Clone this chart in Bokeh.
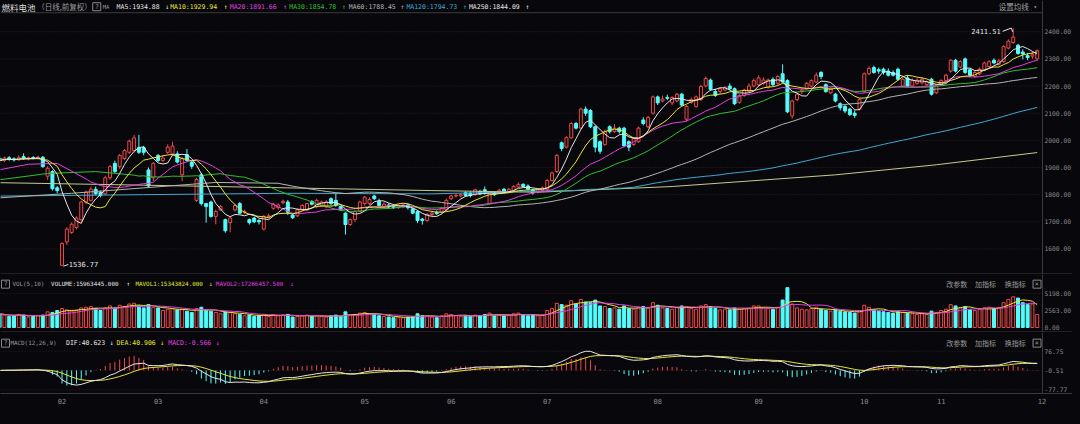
import numpy as np
import pandas as pd
from bokeh.plotting import figure
from bokeh.models import (ColumnDataSource, Range1d, LinearAxis, FixedTicker,
                          PrintfTickFormatter, Span, GlobalInlineStyleSheet)
from bokeh.layouts import column
from bokeh.core.properties import value
from bokeh.embed import file_html
from bokeh.resources import INLINE

# ---------------- data ----------------
month_labels = ["02", "03", "04", "05", "06", "07", "08", "09", "10", "11", "12"]
jan_days_visible = 13
trading_days = [20, 22, 21, 18, 20, 23, 21, 22, 16, 21]   # Feb .. Nov

opens = [
    1935, 1926, 1936, 1932, 1928, 1940, 1932, 1937, 1933, 1938, 1868, 1885, 1825,
    1540, 1626, 1661, 1679, 1708, 1773, 1779, 1820, 1809, 1803, 1862, 1915, 1903, 1933, 1956, 1962, 1973, 1973, 1891, 1862,
    1944, 1926, 1956, 1950, 1950, 1873, 1947, 1920, 1779, 1873, 1767, 1773, 1720, 1744, 1708, 1697, 1744, 1767, 1735, 1708, 1714, 1705,
    1673, 1720, 1750, 1752, 1770, 1773, 1725, 1722, 1744, 1744, 1775, 1756, 1760, 1755, 1785, 1779, 1756, 1732, 1690, 1708, 1738,
    1767, 1767, 1795, 1775, 1756, 1762, 1760, 1752, 1755, 1762, 1748, 1738, 1710, 1705, 1727, 1735, 1735, 1744,
    1785, 1795, 1795, 1808, 1806, 1800, 1812, 1818, 1767, 1806, 1808, 1820, 1812, 1815, 1828, 1838, 1832, 1818, 1810, 1815,
    1818, 1852, 1885, 1991, 1975, 2009, 2062, 2045, 2115, 2110, 2050, 1995, 1985, 2050, 2032, 2045, 2045, 1995, 1985, 1995, 2075, 2050, 2100,
    2160, 2145, 2158, 2138, 2145, 2170, 2078, 2140, 2125, 2150, 2200, 2222, 2180, 2180, 2185, 2200, 2190, 2140, 2165, 2180, 2200,
    2205, 2210, 2195, 2225, 2210, 2245, 2220, 2090, 2150, 2180, 2190, 2200, 2215, 2250, 2205, 2175, 2170, 2135, 2125, 2115, 2100, 2115,
    2180, 2245, 2268, 2260, 2262, 2255, 2250, 2262, 2200, 2230, 2200, 2210, 2212, 2205, 2225, 2175,
    2205, 2220, 2255, 2295, 2270, 2300, 2260, 2235, 2245, 2260, 2272, 2295, 2280, 2290, 2340, 2360, 2350, 2325, 2312, 2310, 2300,
]
highs = [
    1945, 1940, 1942, 1938, 1945, 1952, 1940, 1942, 1944, 1942, 1905, 1890, 1832,
    1625, 1680, 1698, 1720, 1778, 1815, 1830, 1830, 1815, 1870, 1910, 1925, 1950, 1968, 2003, 2020, 2020, 1980, 1900, 1920,
    1950, 1945, 1985, 1995, 1960, 1940, 1968, 1925, 1862, 1880, 1770, 1778, 1745, 1762, 1712, 1718, 1765, 1773, 1745, 1712, 1718, 1710,
    1725, 1730, 1770, 1768, 1782, 1780, 1730, 1750, 1765, 1770, 1780, 1785, 1778, 1780, 1790, 1806, 1760, 1735, 1712, 1742, 1778,
    1795, 1790, 1800, 1785, 1772, 1768, 1765, 1765, 1768, 1768, 1752, 1742, 1714, 1732, 1740, 1742, 1755, 1785,
    1800, 1805, 1806, 1812, 1812, 1822, 1818, 1830, 1810, 1810, 1822, 1825, 1825, 1835, 1845, 1842, 1838, 1822, 1822, 1830,
    1858, 1885, 1950, 1996, 2015, 2068, 2068, 2120, 2125, 2115, 2055, 2000, 2040, 2055, 2060, 2050, 2050, 2000, 2012, 2050, 2085, 2090, 2165,
    2165, 2165, 2168, 2162, 2175, 2175, 2130, 2158, 2165, 2205, 2235, 2228, 2190, 2195, 2200, 2210, 2195, 2170, 2190, 2210, 2228,
    2240, 2232, 2228, 2232, 2240, 2280, 2225, 2150, 2175, 2195, 2215, 2225, 2250, 2255, 2210, 2195, 2175, 2140, 2130, 2120, 2110, 2155,
    2250, 2272, 2275, 2268, 2268, 2265, 2258, 2268, 2232, 2240, 2228, 2228, 2232, 2220, 2230, 2205,
    2225, 2245, 2298, 2300, 2295, 2305, 2265, 2258, 2268, 2290, 2295, 2302, 2300, 2350, 2372, 2411.51, 2355, 2335, 2322, 2325, 2335,
]
lows = [
    1918, 1920, 1925, 1922, 1926, 1928, 1926, 1930, 1930, 1900, 1855, 1815, 1805,
    1536.77, 1615, 1655, 1672, 1700, 1765, 1775, 1798, 1790, 1798, 1855, 1880, 1895, 1928, 1950, 1955, 1950, 1945, 1825, 1850,
    1920, 1920, 1950, 1945, 1915, 1850, 1920, 1895, 1773, 1760, 1697, 1715, 1691, 1740, 1660, 1661, 1738, 1728, 1728, 1690, 1695, 1690,
    1668, 1712, 1745, 1745, 1765, 1725, 1710, 1718, 1740, 1740, 1760, 1750, 1755, 1750, 1760, 1755, 1740, 1653, 1685, 1700, 1735,
    1760, 1762, 1780, 1755, 1750, 1750, 1748, 1748, 1750, 1745, 1728, 1695, 1690, 1700, 1722, 1725, 1730, 1740,
    1780, 1790, 1790, 1792, 1790, 1795, 1798, 1800, 1765, 1795, 1803, 1808, 1808, 1810, 1825, 1825, 1815, 1800, 1805, 1810,
    1812, 1848, 1880, 1960, 1970, 2005, 2040, 2040, 2090, 2045, 1956, 1950, 1980, 2025, 2028, 2025, 1975, 1960, 1980, 1990, 2055, 2045, 2095,
    2130, 2140, 2148, 2130, 2140, 2125, 2070, 2135, 2120, 2145, 2195, 2182, 2160, 2170, 2180, 2185, 2130, 2135, 2160, 2175, 2195,
    2200, 2205, 2190, 2200, 2205, 2210, 2100, 2080, 2145, 2170, 2185, 2195, 2210, 2225, 2175, 2170, 2140, 2110, 2100, 2090, 2082, 2110,
    2175, 2240, 2245, 2245, 2242, 2235, 2235, 2220, 2195, 2195, 2195, 2205, 2205, 2200, 2165, 2170,
    2200, 2215, 2250, 2250, 2265, 2245, 2232, 2230, 2240, 2255, 2268, 2280, 2275, 2285, 2335, 2355, 2315, 2298, 2295, 2300, 2292,
]
closes = [
    1925, 1935, 1930, 1928, 1936, 1933, 1936, 1934, 1938, 1903, 1897, 1822, 1815,
    1620, 1673, 1691, 1714, 1773, 1809, 1820, 1803, 1797, 1862, 1903, 1885, 1944, 1962, 1997, 2009, 1956, 1956, 1832, 1915,
    1926, 1935, 1975, 1979, 1920, 1933, 1926, 1905, 1856, 1767, 1756, 1720, 1738, 1756, 1667, 1714, 1760, 1732, 1738, 1697, 1700, 1700,
    1720, 1722, 1765, 1762, 1775, 1735, 1715, 1744, 1760, 1767, 1765, 1779, 1773, 1773, 1767, 1762, 1744, 1690, 1708, 1738, 1773,
    1791, 1782, 1785, 1760, 1765, 1755, 1752, 1760, 1762, 1752, 1732, 1705, 1705, 1727, 1732, 1730, 1750, 1779,
    1795, 1797, 1800, 1797, 1797, 1818, 1803, 1806, 1803, 1800, 1816, 1812, 1820, 1830, 1838, 1830, 1820, 1806, 1818, 1825,
    1852, 1880, 1944, 1970, 2010, 2062, 2045, 2115, 2100, 2050, 1975, 1960, 2032, 2032, 2045, 2032, 1980, 1975, 2008, 2045, 2062, 2085, 2160,
    2138, 2152, 2155, 2158, 2170, 2130, 2125, 2150, 2160, 2198, 2228, 2188, 2165, 2190, 2195, 2190, 2135, 2165, 2185, 2200, 2220,
    2230, 2222, 2222, 2205, 2235, 2215, 2105, 2145, 2170, 2185, 2210, 2220, 2240, 2235, 2180, 2190, 2145, 2120, 2108, 2095, 2092, 2150,
    2245, 2265, 2250, 2255, 2250, 2240, 2240, 2225, 2225, 2200, 2220, 2222, 2225, 2215, 2170, 2200,
    2220, 2240, 2295, 2255, 2290, 2250, 2240, 2250, 2262, 2285, 2290, 2285, 2292, 2345, 2365, 2380, 2320, 2318, 2305, 2315, 2330,
]
volumes = [
    2100, 1900, 1700, 1800, 2000, 1900, 1600, 1700, 1800, 1900, 2400, 2300, 2600,
    2900, 2700, 2500, 2600, 3000, 3100, 3200, 2900, 2600, 3000, 3300, 3000, 3400, 3200, 3600, 3700, 3300, 3000, 3500, 3100,
    3000, 2600, 2800, 2900, 2700, 2800, 2500, 2300, 2900, 3100, 2600, 2500, 2300, 2100, 2400, 2300, 2100, 2000, 1800, 1900, 1700, 1800,
    2000, 1700, 2000, 1800, 1900, 2000, 1600, 1700, 1800, 1900, 1700, 1800, 1700, 1600, 1800, 1900, 1700, 2400, 1900, 2000, 2200,
    2300, 2100, 2000, 1800, 1700, 1600, 1500, 1600, 1500, 1600, 1700, 2100, 1800, 1700, 1600, 1500, 1800, 2100,
    2000, 1800, 1700, 1800, 1700, 1900, 1800, 2000, 2200, 1800, 1900, 1800, 1900, 2100, 2200, 1900, 1800, 1900, 1800, 1900,
    2600, 2900, 3700, 3500, 3400, 4100, 3600, 4300, 3900, 3800, 4200, 3300, 3200, 2900, 3000, 2800, 3300, 2900, 2800, 3100, 3200, 3000, 3800,
    3400, 3000, 2900, 2800, 3100, 3300, 3200, 2900, 2800, 3300, 3500, 3200, 2900, 2700, 2800, 2700, 3000, 2800, 2900, 3000, 3300,
    3300, 3000, 2900, 2800, 3100, 4200, 6100, 3600, 3000, 2800, 2700, 2900, 3100, 2800, 2600, 2500, 2700, 2500, 2400, 2300, 2200, 2600,
    3400, 3100, 2700, 2500, 2400, 2300, 2200, 2400, 2300, 2200, 2100, 2000, 2100, 2000, 2500, 2300,
    2600, 2800, 3500, 3300, 3000, 3200, 2700, 2600, 2800, 3000, 3100, 2900, 3000, 3800, 4300, 4700, 4500, 3800, 3500, 3600, 2000,
]

# moving-average lead-in values (before a full window exists)
ma20_lead_idx = [0, 6, 12, 18]
ma20_lead_val = [1891.66, 1912, 1915, 1858]
ma30_lead_idx = [0, 10, 20, 28]
ma30_lead_val = [1854.78, 1878, 1885, 1872]
ma60_lead_idx = [0, 15, 30, 45, 58]
ma60_lead_val = [1788.45, 1805, 1825, 1845, 1842]
ma120_lead_idx = [0, 30, 60, 90, 118]
ma120_lead_val = [1794.73, 1800, 1805, 1803, 1815]
ma250_idx = [0, 30, 60, 90, 112, 140, 174, 195, 216]
ma250_val = [1844.09, 1835, 1825, 1815, 1809, 1830, 1873, 1910, 1955]

price_ticks = [1600, 1700, 1800, 1900, 2000, 2100, 2200, 2300, 2400]
vol_ticks = [0, 2563, 5198]
macd_ticks = [-77.77, -0.51, 76.75]

# ---------------- style ----------------
BG = "#08080c"
RED = "#f04848"
CYAN = "#54fcfc"
GRIDC = "#3a1e1e"
SEP = "#3a3a3a"
AXTXT = "#8c8c8c"
WHITE = "#e6e6e6"
YELLOW = "#e6e632"
MAGENTA = "#e040e0"
GREEN = "#30c030"
GRAY = "#b4b4b4"
BLUE = "#40a8d0"
KHAKI = "#c8c890"
MONO = "DejaVu Sans Mono"
CJK = "Noto Sans CJK SC"

W = 1072
PLOT_W = 1042          # width of the candle area; the rest holds the price scale
H_PRICE, H_VOL, H_MACD, H_XAX = 274, 58, 61, 15

N = len(closes)
idx = np.arange(N)
o = np.array(opens, float); h = np.array(highs, float)
l = np.array(lows, float); c = np.array(closes, float)
v = np.array(volumes, float)
up = c >= o

X0, X1 = 0.19, 217.1
XE = X0 + (X1 - X0) * W / PLOT_W
xr = Range1d(X0, XE)
PY0, PY1 = 1506.0, 2515.0
VY0, VY1 = -765.0, 8109.0
MY0, MY1 = -92.1, 151.3


def rx(px):
    return X0 + px * (X1 - X0) / 1050.0


def ry_p(py):
    return PY1 - py * (PY1 - PY0) / 285.0


def ry_v(py):
    return VY1 - (py - 285) * (VY1 - VY0) / 60.0


def ry_m(py):
    return MY1 - (py - 345) * (MY1 - MY0) / 63.0


def make_fig(height, yr, bottom=0):
    p = figure(width=W, height=height, x_range=xr, y_range=Range1d(*yr),
               output_backend="svg", toolbar_location=None,
               background_fill_color=BG, border_fill_color=BG,
               min_border_left=0, min_border_right=0, min_border_top=0,
               min_border_bottom=bottom, x_axis_location=None, y_axis_location=None)
    p.outline_line_color = None
    p.xgrid.visible = False
    p.ygrid.visible = False
    return p


def right_axis(p, ticks):
    ax = LinearAxis(ticker=FixedTicker(ticks=ticks), fixed_location=X1,
                    formatter=PrintfTickFormatter(format="%.2f"),
                    major_tick_line_color=None, minor_tick_line_color=None,
                    major_tick_out=0, major_tick_in=0, minor_tick_out=0, minor_tick_in=0,
                    axis_line_color=SEP, major_label_text_color=AXTXT,
                    major_label_text_font=MONO, major_label_text_font_size="6.3px",
                    major_label_standoff=2)
    p.add_layout(ax, "right")
    n = len(ticks)
    p.segment(x0=[X0] * n, y0=ticks, x1=[X1] * n, y1=ticks, line_color=GRIDC,
              line_dash="1 2", line_width=1)


def texts(p, items, font, size, align="left"):
    src = ColumnDataSource(dict(x=[rx(t[0]) for t in items], y=[t[1] for t in items],
                                t=[t[2] for t in items], col=[t[3] for t in items]))
    p.text(x="x", y="y", text="t", text_color="col", source=src,
           text_font=value(font), text_font_size=size, text_baseline="middle",
           text_align=align)


def qbox(p, px, y):
    p.rect(x=[rx(px)], y=[y], width=8, height=8, width_units="screen",
           height_units="screen", fill_alpha=0, line_color="#8a8a8a", line_width=1)
    texts(p, [(px - 1.8, y, "?", "#9a9a9a")], MONO, "6.5px")


def panel_buttons(p, y):
    texts(p, [(953, y, "改参数", "#9a9a9a"), (982, y, "加指标", "#9a9a9a"),
              (1012, y, "换指标", "#9a9a9a")], CJK, "7px")
    p.rect(x=[rx(1044.5)], y=[y], width=8, height=8, width_units="screen",
           height_units="screen", fill_alpha=0, line_color="#8a8a8a")
    texts(p, [(1042.3, y, "×", "#9a9a9a")], MONO, "7px")


# ---------------- price panel ----------------
pp = make_fig(H_PRICE, (PY0, PY1))
right_axis(pp, price_ticks)

def ohlc_src(mask):
    return ColumnDataSource(dict(x=idx[mask], h=h[mask], l=l[mask],
                                 top=np.maximum(o, c)[mask], bot=np.minimum(o, c)[mask]))

su, sd = ohlc_src(up), ohlc_src(~up)
pp.segment(x0="x", y0="l", x1="x", y1="h", color=RED, line_width=1, source=su)
pp.vbar(x="x", top="top", bottom="bot", width=0.62, fill_color=BG, line_color=RED,
        line_width=1, source=su)
pp.segment(x0="x", y0="l", x1="x", y1="h", color=CYAN, line_width=1, source=sd)
pp.vbar(x="x", top="top", bottom="bot", width=0.62, fill_color=CYAN, line_color=CYAN,
        line_width=1, source=sd)

cs = pd.Series(c)
ma5 = cs.rolling(5, min_periods=1).mean()
ma10 = cs.rolling(10, min_periods=1).mean()


def ma_with_lead(window, lead_i, lead_v):
    full = cs.rolling(window).mean()
    xs = list(lead_i) + list(range(window - 1, N))
    ys = list(lead_v) + list(full.iloc[window - 1:])
    return xs, ys

pp.line(ma250_idx, ma250_val, color=KHAKI, line_width=1)
x120, y120 = ma_with_lead(120, ma120_lead_idx, ma120_lead_val)
pp.line(x120, y120, color=BLUE, line_width=1)
x60, y60 = ma_with_lead(60, ma60_lead_idx, ma60_lead_val)
pp.line(x60, y60, color=GRAY, line_width=1)
x30, y30 = ma_with_lead(30, ma30_lead_idx, ma30_lead_val)
pp.line(x30, y30, color=GREEN, line_width=1)
x20, y20 = ma_with_lead(20, ma20_lead_idx, ma20_lead_val)
pp.line(x20, y20, color=MAGENTA, line_width=1)
pp.line(idx, ma10, color=YELLOW, line_width=1)
pp.line(idx, ma5, color=WHITE, line_width=1)

# extreme labels
il, ih = int(np.argmin(l)), int(np.argmax(h))
pp.segment(x0=[il + 0.3], y0=[l[il]], x1=[il + 1.3], y1=[l[il] + 6], color=WHITE, line_width=1)
pp.text(x=[il + 1.4], y=[l[il] + 8], text=[f"{l[il]:.2f}"], text_color=WHITE,
        text_font=value(MONO), text_font_size="7px", text_baseline="middle")
pp.segment(x0=[ih - 2.2], y0=[h[ih] - 10], x1=[ih - 0.4], y1=[h[ih] + 2], color=WHITE, line_width=1)
pp.segment(x0=[ih - 0.4], y0=[h[ih] + 2], x1=[ih - 0.1], y1=[h[ih] - 12], color=WHITE, line_width=1)
pp.text(x=[ih - 2.6], y=[h[ih] - 10], text=[f"{h[ih]:.2f}"], text_color=WHITE,
        text_font=value(MONO), text_font_size="7px", text_baseline="middle", text_align="right")

# header
hy = ry_p(6.5)
top_line = ry_p(12.7)
pp.segment(x0=[X0], y0=[top_line], x1=[X1], y1=[top_line], line_color=SEP, line_width=1)
pp.add_layout(Span(location=PY0 + 1.8, dimension="width", line_color=SEP, line_width=1))
texts(pp, [(1, hy, "燃料电池", "#dcdcdc")], CJK, "8.5px")
texts(pp, [(37, hy, "（日线,前复权）", "#9a9a9a")], CJK, "7.5px")
qbox(pp, 97, hy)
texts(pp, [(103, hy, "MA", "#9a9a9a")], MONO, "5.5px")
texts(pp, [(117, hy, "MA5:1934.88", WHITE), (166, hy, "↓", WHITE),
           (171, hy, "MA10:1929.94", YELLOW), (225, hy, "↑", YELLOW),
           (231, hy, "MA20:1891.66", MAGENTA), (285, hy, "↑", MAGENTA),
           (291, hy, "MA30:1854.78", GREEN), (344, hy, "↑", GREEN),
           (351, hy, "MA60:1788.45", GRAY), (403, hy, "↑", GRAY),
           (409, hy, "MA120:1794.73", BLUE), (466, hy, "↑", BLUE),
           (472, hy, "MA250:1844.09", WHITE), (529, hy, "↑", WHITE)], MONO, "6.5px")
texts(pp, [(1006, hy, "设置均线", "#a0a0a0")], CJK, "7.5px")
texts(pp, [(1041, hy, "▾", "#a0a0a0")], MONO, "6px")

# ---------------- volume panel ----------------
pv = make_fig(H_VOL, (VY0, VY1))
right_axis(pv, vol_ticks)
vu = ColumnDataSource(dict(x=idx[up], v=v[up]))
vd = ColumnDataSource(dict(x=idx[~up], v=v[~up]))
pv.vbar(x="x", top="v", bottom=0, width=0.62, fill_color=BG, line_color=RED, source=vu)
pv.vbar(x="x", top="v", bottom=0, width=0.62, fill_color=CYAN, line_color=CYAN, source=vd)
vs = pd.Series(v)
pv.line(idx, vs.rolling(5, min_periods=1).mean(), color=YELLOW, line_width=1)
pv.line(idx, vs.rolling(10, min_periods=1).mean(), color=MAGENTA, line_width=1)
pv.add_layout(Span(location=VY0 + 80, dimension="width", line_color=SEP, line_width=1))
vy = ry_v(295)
qbox(pv, 5, vy)
texts(pv, [(12, vy, "VOL(5,10)", "#9a9a9a"), (51, vy, "VOLUME:15963445.000", WHITE),
           (127, vy, "↑", WHITE), (136, vy, "MAVOL1:15343824.000", YELLOW),
           (210, vy, "↓", YELLOW), (217, vy, "MAVOL2:17286457.500", MAGENTA),
           (292, vy, "↓", MAGENTA)], MONO, "5.9px")
panel_buttons(pv, vy)

# ---------------- MACD panel ----------------
pm = make_fig(H_MACD + H_XAX, (MY0, MY1), bottom=H_XAX)
right_axis(pm, macd_ticks)
ema12 = cs.ewm(span=12, adjust=False).mean()
ema26 = cs.ewm(span=26, adjust=False).mean()
dif = ema12 - ema26
dea = dif.ewm(span=9, adjust=False).mean()
macd = 2 * (dif - dea)
mcol = [RED if m >= 0 else CYAN for m in macd]
pm.segment(x0=idx, y0=0, x1=idx, y1=macd.values, color=mcol, line_width=1)
pm.line(idx, dea, color=YELLOW, line_width=1)
pm.line(idx, dif, color=WHITE, line_width=1)
my = ry_m(356)
qbox(pm, 5, my)
texts(pm, [(10, my, "MACD(12,26,9)", "#9a9a9a")], MONO, "5.9px")
texts(pm, [(66, my, "DIF:40.623", WHITE),
           (110, my, "↓", WHITE), (117, my, "DEA:40.906", YELLOW), (161, my, "↓", YELLOW),
           (169, my, "MACD:-0.566", MAGENTA), (217, my, "↓", MAGENTA)], MONO, "6.5px")
panel_buttons(pm, my)

starts = [jan_days_visible]
for d in trading_days:
    starts.append(starts[-1] + d)
xax = LinearAxis(ticker=FixedTicker(ticks=starts),
                 major_label_overrides={s: lab for s, lab in zip(starts, month_labels)},
                 major_tick_line_color=None, minor_tick_line_color=None,
                 major_tick_out=0, major_tick_in=0, minor_tick_out=0, minor_tick_in=0,
                 axis_line_color=SEP, major_label_text_color=AXTXT,
                 major_label_text_font=MONO, major_label_text_font_size="7px",
                 major_label_standoff=4)
pm.add_layout(xax, "below")

layout = column(pp, pv, pm, spacing=0,
                stylesheets=[GlobalInlineStyleSheet(css="body{background:#08080c;}")])
open("out.html", "w").write(file_html(layout, INLINE))
